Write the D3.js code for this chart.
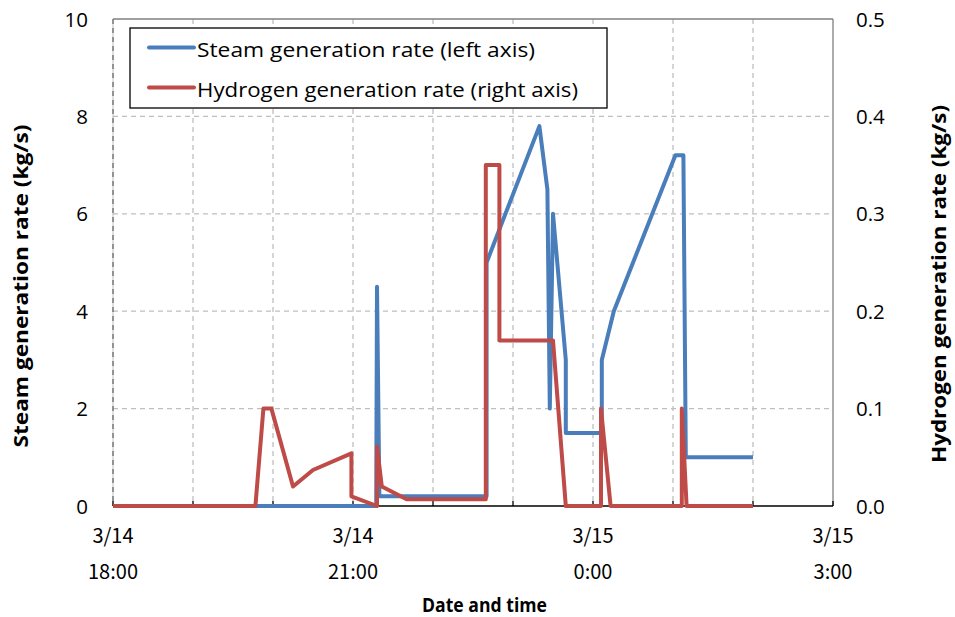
<!DOCTYPE html>
<html><head><meta charset="utf-8">
<script src="https://cdn.jsdelivr.net/npm/d3@7"></script>
<style>body{margin:0;background:#fff}svg{display:block}</style>
</head><body><svg id="c" width="955" height="617"></svg>
<script>
// hours after 3/14 18:00
const steamHours = [0, 3.29, 3.30, 3.33, 4.67, 4.67, 5.33, 5.43, 5.46, 5.50, 5.66, 5.66, 6.11, 6.11, 6.26, 7.03, 7.13, 7.16, 8.0];
const steamValues = [0, 0, 4.5, 0.2, 0.2, 5.0, 7.8, 6.5, 2.0, 6.0, 3.0, 1.5, 1.5, 3.0, 4.0, 7.2, 7.2, 1.0, 1.0];
const h2Hours = [0, 1.78, 1.88, 1.98, 2.25, 2.50, 2.98, 2.98, 3.30, 3.30, 3.36, 3.67, 4.66, 4.66, 4.83, 4.83, 5.50, 5.66, 6.10, 6.10, 6.22, 7.11, 7.11, 7.17, 8.0];
const h2Values = [0, 0, 0.1, 0.1, 0.02, 0.037, 0.054, 0.01, 0, 0.061, 0.02, 0.007, 0.007, 0.35, 0.35, 0.17, 0.17, 0, 0, 0.1, 0, 0, 0.1, 0, 0];
const xTickLabels = [["3/14","18:00"],["3/14","21:00"],["3/15","0:00"],["3/15","3:00"]];
const xTickHours = [0, 3, 6, 9];
const leftTicks = [0, 2, 4, 6, 8, 10];
const rightTicks = [0, 0.1, 0.2, 0.3, 0.4, 0.5];
const legendLabels = ["Steam generation rate (left axis)", "Hydrogen generation rate (right axis)"];

const svg = d3.select("#c");
const L = 113, R = 833, T = 19, B = 506;
const x = d3.scaleLinear().domain([0, 9]).range([L, R]);
const yL = d3.scaleLinear().domain([0, 10]).range([B, T]);
const yR = d3.scaleLinear().domain([0, 0.5]).range([B, T]);
const font = "'Open Sans', Lato, sans-serif";
const blue = "#4a7ebb", red = "#be4b48";

// grid
const g = svg.append("g");
g.selectAll(".hg").data([2,4,6,8]).join("line")
  .attr("x1", L).attr("x2", R).attr("y1", d => yL(d)).attr("y2", d => yL(d))
  .attr("stroke", "#bfbfbf").attr("stroke-width", 1.3).attr("stroke-dasharray", "5,4");
g.selectAll(".vg").data(d3.range(0, 9)).join("line")
  .attr("x1", d => x(d)).attr("x2", d => x(d)).attr("y1", T).attr("y2", B)
  .attr("stroke", d => d === 0 ? "#555" : "#bfbfbf").attr("stroke-width", 1.3).attr("stroke-dasharray", "5,4");
// borders
svg.append("line").attr("x1", L).attr("x2", R).attr("y1", T).attr("y2", T).attr("stroke", "#808080").attr("stroke-width", 1.3);
svg.append("line").attr("x1", R).attr("x2", R).attr("y1", T).attr("y2", B).attr("stroke", "#808080").attr("stroke-width", 1.3);
svg.append("line").attr("x1", L).attr("x2", L).attr("y1", T).attr("y2", B).attr("stroke", "#9a9a9a").attr("stroke-width", 1).attr("opacity", 0.6);

// bottom axis
svg.append("line").attr("x1", L).attr("x2", R).attr("y1", B).attr("y2", B).attr("stroke", "#000").attr("stroke-width", 1.5);
svg.selectAll(".xt").data(d3.range(0, 10)).join("line")
  .attr("x1", d => x(d)).attr("x2", d => x(d)).attr("y1", B).attr("y2", B - 5).attr("stroke", "#000").attr("stroke-width", 1.3);

// lines
const steam = steamHours.map((h, i) => [h, steamValues[i]]);
const h2 = h2Hours.map((h, i) => [h, h2Values[i]]);
svg.append("path").attr("d", d3.line().x(d => x(d[0])).y(d => yL(d[1]))(steam))
  .attr("fill", "none").attr("stroke", blue).attr("stroke-width", 4).attr("stroke-linejoin", "round");
svg.append("path").attr("d", d3.line().x(d => x(d[0])).y(d => yR(d[1]))(h2))
  .attr("fill", "none").attr("stroke", red).attr("stroke-width", 4).attr("stroke-linejoin", "round");

const xl = svg.selectAll(".xl").data(xTickHours).join("text")
  .attr("x", d => x(d)).attr("text-anchor", "middle")
  .attr("font-family", "'Noto Sans CJK JP', sans-serif").attr("font-size", 20).attr("fill", "#000");
xl.append("tspan").attr("x", d => x(d)).attr("y", 543).text((d, i) => xTickLabels[i][0]);
xl.append("tspan").attr("x", d => x(d)).attr("y", 579).text((d, i) => xTickLabels[i][1]);

// y tick labels
svg.selectAll(".yl").data(leftTicks).join("text")
  .attr("x", 88).attr("y", d => yL(d) + 7.5).attr("text-anchor", "end")
  .attr("font-family", font).attr("font-size", 20.5).text(d => d);
svg.selectAll(".yr").data(rightTicks).join("text")
  .attr("x", 856).attr("y", d => yR(d) + 7.5).attr("text-anchor", "start")
  .attr("font-family", font).attr("font-size", 20.5).text(d => d.toFixed(1));

// titles
svg.append("text").attr("transform", "translate(28,286) rotate(-90)").attr("text-anchor", "middle")
  .attr("font-family", font).attr("font-weight", "bold").attr("font-size", 19)
  .attr("textLength", 323).attr("lengthAdjust", "spacingAndGlyphs").text("Steam generation rate (kg/s)");
svg.append("text").attr("transform", "translate(946,284) rotate(-90)").attr("text-anchor", "middle")
  .attr("font-family", font).attr("font-weight", "bold").attr("font-size", 19)
  .attr("textLength", 358).attr("lengthAdjust", "spacingAndGlyphs").text("Hydrogen generation rate (kg/s)");
svg.append("text").attr("x", 484.5).attr("y", 612).attr("text-anchor", "middle")
  .attr("font-family", font).attr("font-weight", "bold").attr("font-size", 19)
  .attr("textLength", 125).attr("lengthAdjust", "spacingAndGlyphs").text("Date and time");

// legend
svg.append("rect").attr("x", 130).attr("y", 28).attr("width", 477).attr("height", 80)
  .attr("fill", "#fff").attr("stroke", "#000").attr("stroke-width", 1.3);
const legendWidths = [338, 381];
const lg = svg.selectAll(".lg").data(legendLabels).join("g")
  .attr("transform", (d, i) => `translate(0,${47.5 + i * 40})`);
lg.append("line").attr("x1", 149).attr("x2", 194).attr("stroke", (d, i) => i ? red : blue)
  .attr("stroke-width", 4).attr("stroke-linecap", "round");
lg.append("text").attr("x", 197).attr("y", 9).attr("font-family", font).attr("font-size", 20.5)
  .attr("textLength", (d, i) => legendWidths[i]).attr("lengthAdjust", "spacingAndGlyphs").text(d => d);
</script></body></html>
